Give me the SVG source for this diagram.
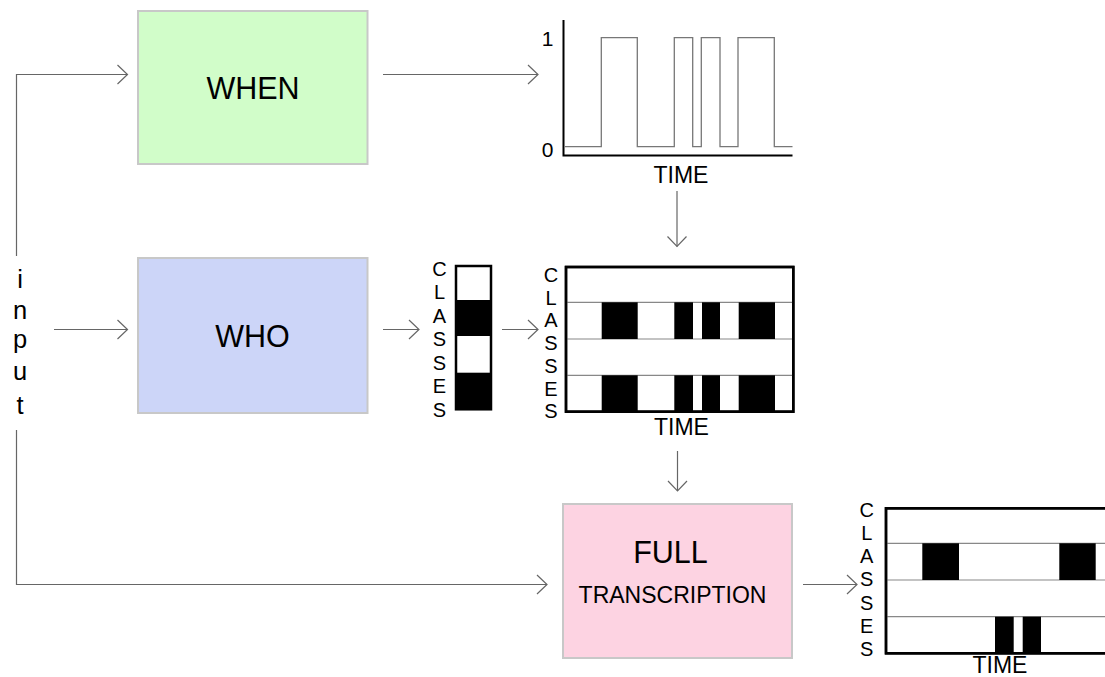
<svg xmlns="http://www.w3.org/2000/svg" width="1105" height="677" viewBox="0 0 1105 677">
<style>
text{font-family:"Liberation Sans",Arial,sans-serif;fill:#000}
.box{stroke:#c8c8c8;stroke-width:2}
.conn{fill:none;stroke:#666;stroke-width:1.2}
.frame{fill:#fff;stroke:#000;stroke-width:2.5}
.row{stroke:#888;stroke-width:1.2}
.blk{fill:#000}
.lbl{font-size:20px;text-anchor:middle}
.time{font-size:23px;text-anchor:middle}
.inp{font-size:25.5px;text-anchor:middle}
</style>
<defs>
<marker id="chev" viewBox="-12 -11 13 22" markerWidth="13" markerHeight="22" refX="0" refY="0" orient="auto" markerUnits="userSpaceOnUse">
<path d="M-10,-9.5 L0,0 L-10,9.5" fill="none" stroke="#666" stroke-width="1.2"/>
</marker>
</defs>
<rect width="1105" height="677" fill="#fff"/>

<g id="connectors">
<path class="conn" d="M16.5,256 V74.5 H127.5" marker-end="url(#chev)"/>
<path class="conn" d="M54,329.5 H127.5" marker-end="url(#chev)"/>
<path class="conn" d="M16.5,430 V584.5 H547" marker-end="url(#chev)"/>
<path class="conn" d="M383,74.5 H538" marker-end="url(#chev)"/>
<path class="conn" d="M383,329.5 H419" marker-end="url(#chev)"/>
<path class="conn" d="M502,329.5 H538" marker-end="url(#chev)"/>
<path class="conn" d="M677,191 V246.5" marker-end="url(#chev)"/>
<path class="conn" d="M677.5,451 V491" marker-end="url(#chev)"/>
<path class="conn" d="M803,584.5 H857" marker-end="url(#chev)"/>
</g>

<g id="input">
<text class="inp" x="20" y="288">i</text>
<text class="inp" x="20" y="319">n</text>
<text class="inp" x="20" y="348">p</text>
<text class="inp" x="20" y="380">u</text>
<text class="inp" x="20" y="414">t</text>
</g>

<g id="when">
<rect class="box" x="138" y="11" width="229.5" height="153" fill="#d1fdc9"/>
<text x="253" y="99.3" font-size="30.5" text-anchor="middle">WHEN</text>
</g>

<g id="who">
<rect class="box" x="138" y="258" width="229.5" height="155" fill="#ccd5f8"/>
<text x="252.5" y="347" font-size="30.5" text-anchor="middle">WHO</text>
</g>

<g id="full">
<rect class="box" x="563" y="504" width="229" height="154" fill="#fdd3e2"/>
<text x="670.5" y="563.3" font-size="30.5" text-anchor="middle">FULL</text>
<text x="672.5" y="602.7" font-size="23" text-anchor="middle">TRANSCRIPTION</text>
</g>

<g id="when-chart">
<path d="M565,146.7 H601.3 V37.7 H637.3 V146.7 H674.3 V37.7 H692.7 V146.7 H701.3 V37.7 H720 V146.7 H738 V37.7 H774.3 V146.7 H792.5" fill="none" stroke="#777" stroke-width="1.3"/>
<path d="M563.5,20 V155.5 H792.5" fill="none" stroke="#000" stroke-width="2"/>
<text x="553.5" y="45.5" font-size="21" text-anchor="end">1</text>
<text x="553.5" y="157" font-size="21" text-anchor="end">0</text>
<text class="time" x="681" y="182.7">TIME</text>
</g>

<g id="who-classes">
<rect x="456" y="266" width="35" height="143.3" fill="#fff"/>
<rect class="blk" x="456" y="300" width="35" height="36"/>
<rect class="blk" x="456" y="372.7" width="35" height="36.6"/>
<rect x="456" y="266" width="35" height="143.3" fill="none" stroke="#000" stroke-width="2.5"/>
<text class="lbl"><tspan x="439.5" y="275.5">C</tspan><tspan x="439.5" y="299">L</tspan><tspan x="439.5" y="322.5">A</tspan><tspan x="439.5" y="346">S</tspan><tspan x="439.5" y="369.5">S</tspan><tspan x="439.5" y="393">E</tspan><tspan x="439.5" y="416.5">S</tspan></text>
</g>

<g id="who-when-chart">
<rect class="frame" x="566" y="267" width="227.3" height="144.7"/>
<line class="row" x1="566" y1="302.3" x2="793.3" y2="302.3"/>
<line class="row" x1="566" y1="339" x2="793.3" y2="339"/>
<line class="row" x1="566" y1="375.3" x2="793.3" y2="375.3"/>
<rect class="blk" x="601.7" y="302.3" width="36" height="36.7"/>
<rect class="blk" x="674.3" y="302.3" width="18.7" height="36.7"/>
<rect class="blk" x="702" y="302.3" width="18" height="36.7"/>
<rect class="blk" x="738.7" y="302.3" width="36.3" height="36.7"/>
<rect class="blk" x="601.7" y="375.3" width="36" height="36.4"/>
<rect class="blk" x="674.3" y="375.3" width="18.7" height="36.4"/>
<rect class="blk" x="702" y="375.3" width="18" height="36.4"/>
<rect class="blk" x="738.7" y="375.3" width="36.3" height="36.4"/>
<rect x="566" y="267" width="227.3" height="144.7" fill="none" stroke="#000" stroke-width="2.5"/>
<text class="lbl"><tspan x="551" y="282">C</tspan><tspan x="551" y="304.7">L</tspan><tspan x="551" y="327.4">A</tspan><tspan x="551" y="350.1">S</tspan><tspan x="551" y="372.8">S</tspan><tspan x="551" y="395.5">E</tspan><tspan x="551" y="418.2">S</tspan></text>
<text class="time" x="681.5" y="435">TIME</text>
</g>

<g id="full-chart">
<rect class="frame" x="886" y="508.3" width="240" height="145"/>
<line class="row" x1="886" y1="543.3" x2="1126" y2="543.3"/>
<line class="row" x1="886" y1="580" x2="1126" y2="580"/>
<line class="row" x1="886" y1="616.7" x2="1126" y2="616.7"/>
<rect class="blk" x="922.3" y="543.3" width="36.7" height="36.7"/>
<rect class="blk" x="1059.3" y="543.3" width="36.4" height="36.7"/>
<rect class="blk" x="995" y="616.7" width="18.7" height="36.6"/>
<rect class="blk" x="1022.7" y="616.7" width="18.3" height="36.6"/>
<rect x="886" y="508.3" width="240" height="145" fill="none" stroke="#000" stroke-width="2.5"/>
<text class="lbl"><tspan x="866.7" y="516.5">C</tspan><tspan x="866.7" y="539.8">L</tspan><tspan x="866.7" y="563.1">A</tspan><tspan x="866.7" y="586.4">S</tspan><tspan x="866.7" y="609.7">S</tspan><tspan x="866.7" y="633">E</tspan><tspan x="866.7" y="656.3">S</tspan></text>
<text class="time" x="1000" y="673">TIME</text>
</g>
</svg>
